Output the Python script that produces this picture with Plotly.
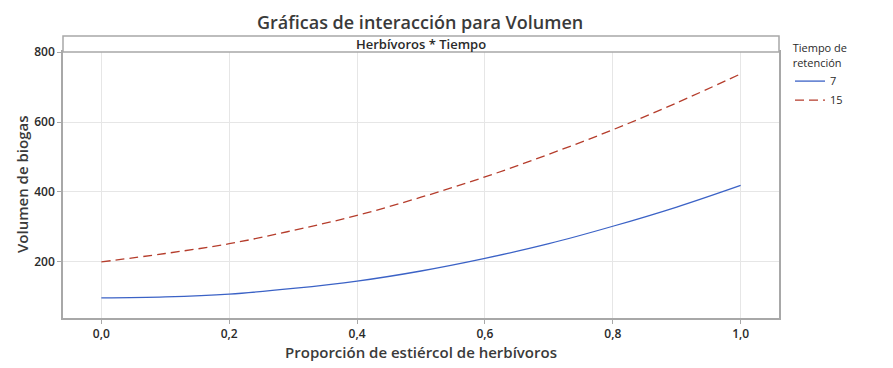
import plotly.graph_objects as go

x_vals = [0.0, 0.1, 0.2, 0.3, 0.4, 0.5, 0.6, 0.7, 0.8, 0.9, 1.0]
vol_7 = [97, 100, 108, 124, 145, 174, 210, 252, 302, 357, 419]
vol_15 = [200, 224, 252, 290, 333, 385, 443, 508, 578, 655, 738]
x_ticks = [0.0, 0.2, 0.4, 0.6, 0.8, 1.0]
y_ticks = [200, 400, 600, 800]

FONT = "Open Sans"
TXT = "#2a2a2a"

fig = go.Figure()
fig.add_trace(go.Scatter(x=x_vals, y=vol_7, mode="lines", name="7",
                         line=dict(color="#3b62c6", width=1.3, shape="spline")))
fig.add_trace(go.Scatter(x=x_vals, y=vol_15, mode="lines", name="15",
                         line=dict(color="#b53d2c", width=1.3, shape="spline", dash="9px,5px")))

# page body has an 8px default margin, so the figure is shrunk by 8px
W, H = 885, 360
l, r, t, b = 55, 114, 44, 50
pw = W - l - r
ph = H - t - b

fig.update_layout(
    width=W, height=H,
    margin=dict(l=l, r=r, t=t, b=b, autoexpand=False),
    paper_bgcolor="white", plot_bgcolor="white",
    separators=",.",
    font=dict(family=FONT, color=TXT, size=12),
    xaxis=dict(range=[-0.06, 1.06], tickvals=x_ticks, tickformat=".1f",
               automargin=False,
               showgrid=True, gridcolor="#e6e6e6", gridwidth=1,
               showline=True, linecolor="#a8a8a8", linewidth=1.5, mirror=True,
               ticks="outside", ticklen=4, tickcolor="#a8a8a8",
               zeroline=False,
               tickfont=dict(size=12, color=TXT, weight=600),
               title=dict(text="Proporción de estiércol de herbívoros", standoff=2,
                          font=dict(size=15, color="#3a3a3a", weight=600))),
    yaxis=dict(range=[39.5, 800.5], tickvals=y_ticks,
               automargin=False,
               showgrid=True, gridcolor="#e6e6e6", gridwidth=1,
               showline=True, linecolor="#a8a8a8", linewidth=1.5, mirror=True,
               ticks="outside", ticklen=4, tickcolor="#a8a8a8",
               zeroline=False,
               tickfont=dict(size=12, color=TXT, weight=600)),
    legend=dict(x=(782 - l) / pw, xanchor="left", y=1 + 14 / ph, yanchor="top",
                title=dict(text="Tiempo de<br>retención", side="top right",
                           font=dict(size=11, color=TXT)),
                font=dict(size=11, color=TXT), bgcolor="rgba(0,0,0,0)",
                itemwidth=30, tracegroupgap=0),
    showlegend=True,
)

# chart title as a top-anchored annotation
fig.add_annotation(text="Gráficas de interacción para Volumen", xref="paper", yref="paper",
                   x=(420 - 8 - l) / pw, y=1 + (t - 1) / ph, xanchor="center", yanchor="top",
                   showarrow=False, borderpad=0,
                   font=dict(size=18, color="#3a3a3a", family=FONT, weight=600))

# y-axis title placed as a rotated annotation to sit close to the page edge
fig.add_annotation(text="Volumen de biogas", xref="paper", yref="paper",
                   x=(2 - l) / pw, y=0.5, xanchor="left", yanchor="middle",
                   textangle=-90, showarrow=False,
                   font=dict(size=15, color="#3a3a3a", family=FONT, weight=600))

hdr = 16 / ph
fig.add_shape(type="rect", xref="paper", yref="paper", x0=0, x1=1, y0=1, y1=1 + hdr,
              line=dict(color="#a8a8a8", width=1.5), fillcolor="white", layer="above")
fig.add_annotation(text="Herbívoros * Tiempo", xref="paper", yref="paper",
                   x=0.5, y=1 + hdr / 2, showarrow=False, yanchor="middle",
                   font=dict(size=13, color=TXT, family=FONT, weight=600))

fig.write_html("out.html")
